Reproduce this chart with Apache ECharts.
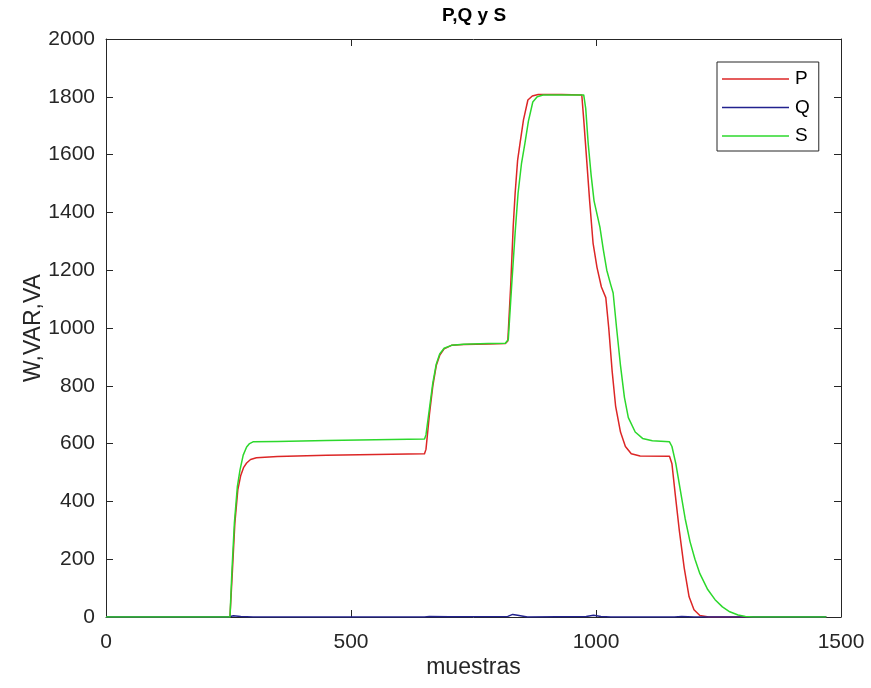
<!DOCTYPE html>
<html>
<head>
<meta charset="utf-8">
<title>P,Q y S</title>
<script src="https://cdn.jsdelivr.net/npm/echarts@6/dist/echarts.min.js"></script>
<style>
  html, body { margin: 0; padding: 0; background: #ffffff; }
  #chart { width: 871px; height: 688px; }
</style>
</head>
<body>
<div id="chart"></div>
<script>
// Axis ranges and ticks
const xTicks = [0, 500, 1000, 1500];
const yTicks = [0, 200, 400, 600, 800, 1000, 1200, 1400, 1600, 1800, 2000];

// Active power P (W) as [muestra, valor]
const seriesP = [
  [0, 0], [253, 0], [258, 160], [263, 325], [269, 440], [275, 490], [281, 518],
  [287, 533], [295, 545], [307, 551], [350, 555], [450, 560], [550, 562], [650, 565],
  [653, 580], [660, 700], [667, 800], [674, 870], [681, 905], [690, 928], [705, 940],
  [730, 943], [780, 945], [815, 946], [820, 955], [826, 1150], [831, 1350], [835, 1467],
  [840, 1580], [845, 1640], [852, 1720], [861, 1789], [870, 1803], [882, 1808],
  [930, 1808], [971, 1806], [975, 1720], [981, 1581], [987, 1440], [994, 1294],
  [1002, 1210], [1011, 1142], [1020, 1105], [1026, 1000], [1033, 850], [1040, 730],
  [1050, 640], [1060, 590], [1072, 565], [1090, 557], [1150, 556], [1155, 530],
  [1162, 420], [1170, 300], [1180, 170], [1190, 70], [1200, 25], [1212, 5],
  [1230, 0], [1470, 0]
];

// Reactive power Q (VAR)
const seriesQ = [
  [0, 0], [250, 0], [260, 4], [275, 2], [300, 0], [650, 0], [660, 2], [700, 1],
  [820, 2], [830, 9], [840, 6], [860, 0], [980, 2], [995, 6], [1010, 2], [1030, 0],
  [1160, 0], [1175, 2], [1200, 0], [1470, 0]
];

// Apparent power S (VA)
const seriesS = [
  [0, 0], [253, 0], [257, 160], [262, 325], [268, 450], [273.5, 509], [280, 560],
  [287, 588], [293, 600], [300, 606], [350, 607], [450, 611], [550, 613], [650, 616],
  [653, 630], [660, 720], [667, 810], [674, 875], [681, 910], [690, 930], [705, 940],
  [730, 944], [780, 946], [815, 947], [821, 960], [828, 1150], [835, 1330], [841, 1467],
  [848, 1570], [855, 1640], [862, 1715], [871, 1782], [880, 1800], [892, 1806],
  [930, 1806], [975, 1806], [979, 1760], [984, 1640], [990, 1530], [996, 1440],
  [1008, 1349], [1015, 1270], [1022, 1200], [1030, 1150], [1035, 1121], [1042, 1000],
  [1050, 870], [1058, 760], [1066, 690], [1080, 640], [1095, 618], [1115, 610],
  [1150, 606], [1155, 590], [1163, 530], [1172, 440], [1182, 340], [1192, 260],
  [1202, 200], [1212, 150], [1228, 95], [1243, 60], [1258, 35], [1273, 18], [1290, 7],
  [1305, 2], [1320, 0], [1470, 0]
];

const seriesNames = ['P', 'Q', 'S'];
const seriesColors = ['#dc2626', '#22228e', '#2cd82c'];

const ink = '#262626';
const font = 'Liberation Sans, Arial, Helvetica, sans-serif';

function lineSeries(name, data, color) {
  return {
    name: name,
    type: 'line',
    data: data,
    showSymbol: false,
    smooth: false,
    lineStyle: { color: color, width: 1.5, join: 'round' },
    itemStyle: { color: color },
    animation: false,
    z: 3
  };
}

const boxAxis = {
  axisLine: { show: true, onZero: false, lineStyle: { color: ink, width: 1 } },
  axisTick: { show: true, inside: true, length: 7, lineStyle: { color: ink } },
  splitLine: { show: false }
};

const plain = function (v) { return String(v); };

const chart = echarts.init(document.getElementById('chart'), null, { renderer: 'canvas' });
chart.setOption({
  backgroundColor: '#ffffff',
  animation: false,
  title: {
    text: 'P,Q y S',
    left: 442,
    top: 6,
    padding: 0,
    textStyle: { fontFamily: font, fontSize: 19, fontWeight: 'bold', color: '#000000' }
  },
  grid: { left: 106, right: 30, top: 39, bottom: 71, containLabel: false, outerBoundsMode: 'none' },
  legend: {
    orient: 'vertical',
    left: 717,
    top: 62,
    data: seriesNames,
    icon: 'rect',
    itemWidth: 67,
    itemHeight: 1.5,
    itemGap: 8.5,
    padding: [7, 9, 5, 5],
    borderColor: ink,
    borderWidth: 1,
    backgroundColor: '#ffffff',
    textStyle: { fontFamily: font, fontSize: 19, color: '#000000', lineHeight: 20, padding: [0, 0, 0, 1] }
  },
  xAxis: [
    Object.assign({}, boxAxis, {
      type: 'value',
      min: xTicks[0],
      max: xTicks[xTicks.length - 1],
      interval: 500,
      position: 'bottom',
      name: 'muestras',
      nameLocation: 'middle',
      nameGap: 39,
      nameMoveOverlap: false,
      nameTextStyle: { fontFamily: font, fontSize: 23, color: ink },
      axisLabel: { fontFamily: font, fontSize: 21, color: ink, margin: 15, formatter: plain }
    }),
    Object.assign({}, boxAxis, {
      type: 'value',
      min: xTicks[0],
      max: xTicks[xTicks.length - 1],
      interval: 500,
      position: 'top',
      axisLabel: { show: false }
    })
  ],
  yAxis: [
    Object.assign({}, boxAxis, {
      type: 'value',
      min: yTicks[0],
      max: yTicks[yTicks.length - 1],
      interval: 200,
      position: 'left',
      name: 'W,VAR,VA',
      nameLocation: 'middle',
      nameGap: 61,
      nameMoveOverlap: false,
      nameTextStyle: { fontFamily: font, fontSize: 23, color: ink },
      axisLabel: { fontFamily: font, fontSize: 21, color: ink, margin: 11, formatter: plain }
    }),
    Object.assign({}, boxAxis, {
      type: 'value',
      min: yTicks[0],
      max: yTicks[yTicks.length - 1],
      interval: 200,
      position: 'right',
      axisLabel: { show: false }
    })
  ],
  series: [
    lineSeries(seriesNames[0], seriesP, seriesColors[0]),
    lineSeries(seriesNames[1], seriesQ, seriesColors[1]),
    lineSeries(seriesNames[2], seriesS, seriesColors[2])
  ]
});
</script>
</body>
</html>
